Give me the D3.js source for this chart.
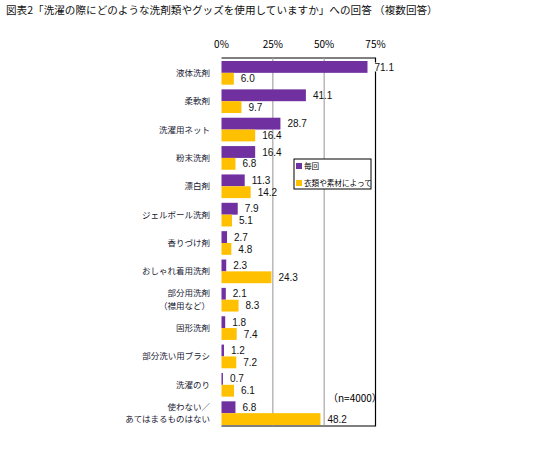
<!DOCTYPE html>
<html>
<head>
<meta charset="utf-8">
<script src="https://cdn.jsdelivr.net/npm/d3@7"></script>
<style>
  body { margin: 0; background: #fff; }
  text { font-family: "Noto Sans CJK JP", "Noto Sans", sans-serif; }
  text.num { font-family: "Liberation Sans", Arial, sans-serif; }
</style>
</head>
<body>
<div id="chart"></div>
<script>
// 図表2 data
const categories = [
  ["液体洗剤"], ["柔軟剤"], ["洗濯用ネット"], ["粉末洗剤"], ["漂白剤"],
  ["ジェルボール洗剤"], ["香りづけ剤"], ["おしゃれ着用洗剤"],
  ["部分用洗剤", "（襟用など）"], ["固形洗剤"], ["部分洗い用ブラシ"],
  ["洗濯のり"], ["使わない／", "あてはまるものはない"]
];
const everyTime = [71.1, 41.1, 28.7, 16.4, 11.3, 7.9, 2.7, 2.3, 2.1, 1.8, 1.2, 0.7, 6.8];
const byClothes = [6.0, 9.7, 16.4, 6.8, 14.2, 5.1, 4.8, 24.3, 8.3, 7.4, 7.2, 6.1, 48.2];
const seriesNames = ["毎回", "衣類や素材によって"];
const ticks = [0, 25, 50, 75];
const colors = ["#7030A0", "#FFC000"];

const W = 536, H = 451;
const svg = d3.select("#chart").append("svg")
    .attr("width", W)
    .attr("height", H);

// title
svg.append("text")
    .attr("x", 6)
    .attr("y", 14)
    .attr("font-size", 10.6)
    .attr("fill", "#111")
    .text("図表2「洗濯の際にどのような洗剤類やグッズを使用していますか」への回答 （複数回答）");

const x = d3.scaleLinear().domain([0, 75]).range([221.5, 375.5]);
const y = d3.scaleBand()
    .domain(d3.range(categories.length))
    .range([61, 425])
    .paddingInner(0.165)
    .paddingOuter(0);
const sub = d3.scaleBand().domain([0, 1]).range([0, y.bandwidth()]);

const frameTop = y.range()[0] - 3, frameBottom = y.range()[1] + 1;

// frame: top, right, bottom (no left line)
svg.append("path")
    .attr("d", `M${x(0)},${frameTop}H${x(75)}V${frameBottom}H${x(0)}`)
    .attr("fill", "none")
    .attr("stroke", "#000")
    .attr("stroke-width", 1.2);

// tick labels above
svg.append("g").selectAll("text")
    .data(ticks)
    .join("text")
    .attr("x", d => x(d))
    .attr("y", 48)
    .attr("text-anchor", "middle")
    .attr("font-size", 10)
    .text(d => d + "%");

// rows: one object per value, built from the arrays
const rows = [];
categories.forEach((c, i) => {
    rows.push({i: i, s: 0, v: everyTime[i]});
    rows.push({i: i, s: 1, v: byClothes[i]});
});

// white backing behind the value labels (hides the frame corner under 71.1)
const bgs = svg.append("g").selectAll("rect")
    .data(rows)
    .join("rect")
    .attr("fill", "#fff");

// gridlines
svg.append("g").selectAll("line")
    .data([25, 50])
    .join("line")
    .attr("x1", d => x(d)).attr("x2", d => x(d))
    .attr("y1", frameTop).attr("y2", frameBottom - 0.6)
    .attr("stroke", "#a6a6a6")
    .attr("stroke-width", 1.2);

// bars
svg.append("g").selectAll("rect")
    .data(rows)
    .join("rect")
    .attr("x", x(0))
    .attr("y", d => y(d.i) + sub(d.s))
    .attr("width", d => x(d.v) - x(0))
    .attr("height", sub.bandwidth())
    .attr("fill", d => colors[d.s]);

// value labels
const vals = svg.append("g").selectAll("text")
    .data(rows)
    .join("text")
    .attr("class", "num")
    .attr("x", d => x(d.v) + 7)
    .attr("y", d => y(d.i) + sub(d.s) + sub.bandwidth() / 2 + 3.6)
    .attr("font-size", 10)
    .attr("fill", "#111")
    .text(d => d.v.toFixed(1));

vals.each(function (d) {
    d.box = this.getBBox();
});
bgs.attr("x", d => d.box.x - 1)
    .attr("y", d => d.box.y + 1)
    .attr("width", d => d.box.width + 2)
    .attr("height", d => d.box.height - 2);

// category labels
const cat = svg.append("g").selectAll("text")
    .data(categories)
    .join("text")
    .attr("text-anchor", "end")
    .attr("font-size", 8.5)
    .attr("fill", "#1a1a33");
cat.each(function (lines, i) {
    const cy = y(i) + y.bandwidth() / 2;
    const n = lines.length;
    d3.select(this).selectAll("tspan")
        .data(lines)
        .join("tspan")
        .attr("x", 210)
        .attr("y", (l, k) => cy + 3 + (k - (n - 1) / 2) * 12.5)
        .text(l => l);
});

// legend
const lg = svg.append("g").attr("transform", "translate(294,159)");
lg.append("clipPath").attr("id", "lgclip")
    .append("rect").attr("width", 77).attr("height", 30);
lg.append("rect")
    .attr("width", 77).attr("height", 30)
    .attr("fill", "#fff")
    .attr("stroke", "#000")
    .attr("stroke-width", 1);
const li = lg.append("g").attr("clip-path", "url(#lgclip)")
    .selectAll("g")
    .data(seriesNames)
    .join("g")
    .attr("transform", (d, i) => `translate(2,${4 + i * 17})`);
li.append("rect")
    .attr("width", 6).attr("height", 6)
    .attr("fill", (d, i) => colors[i]);
li.append("text")
    .attr("x", 8)
    .attr("y", 6)
    .attr("font-size", 7.6)
    .text(d => d);

// sample size note
svg.append("text")
    .attr("x", 328)
    .attr("y", 402)
    .attr("font-size", 10)
    .text("（n=4000）");
</script>
</body>
</html>
